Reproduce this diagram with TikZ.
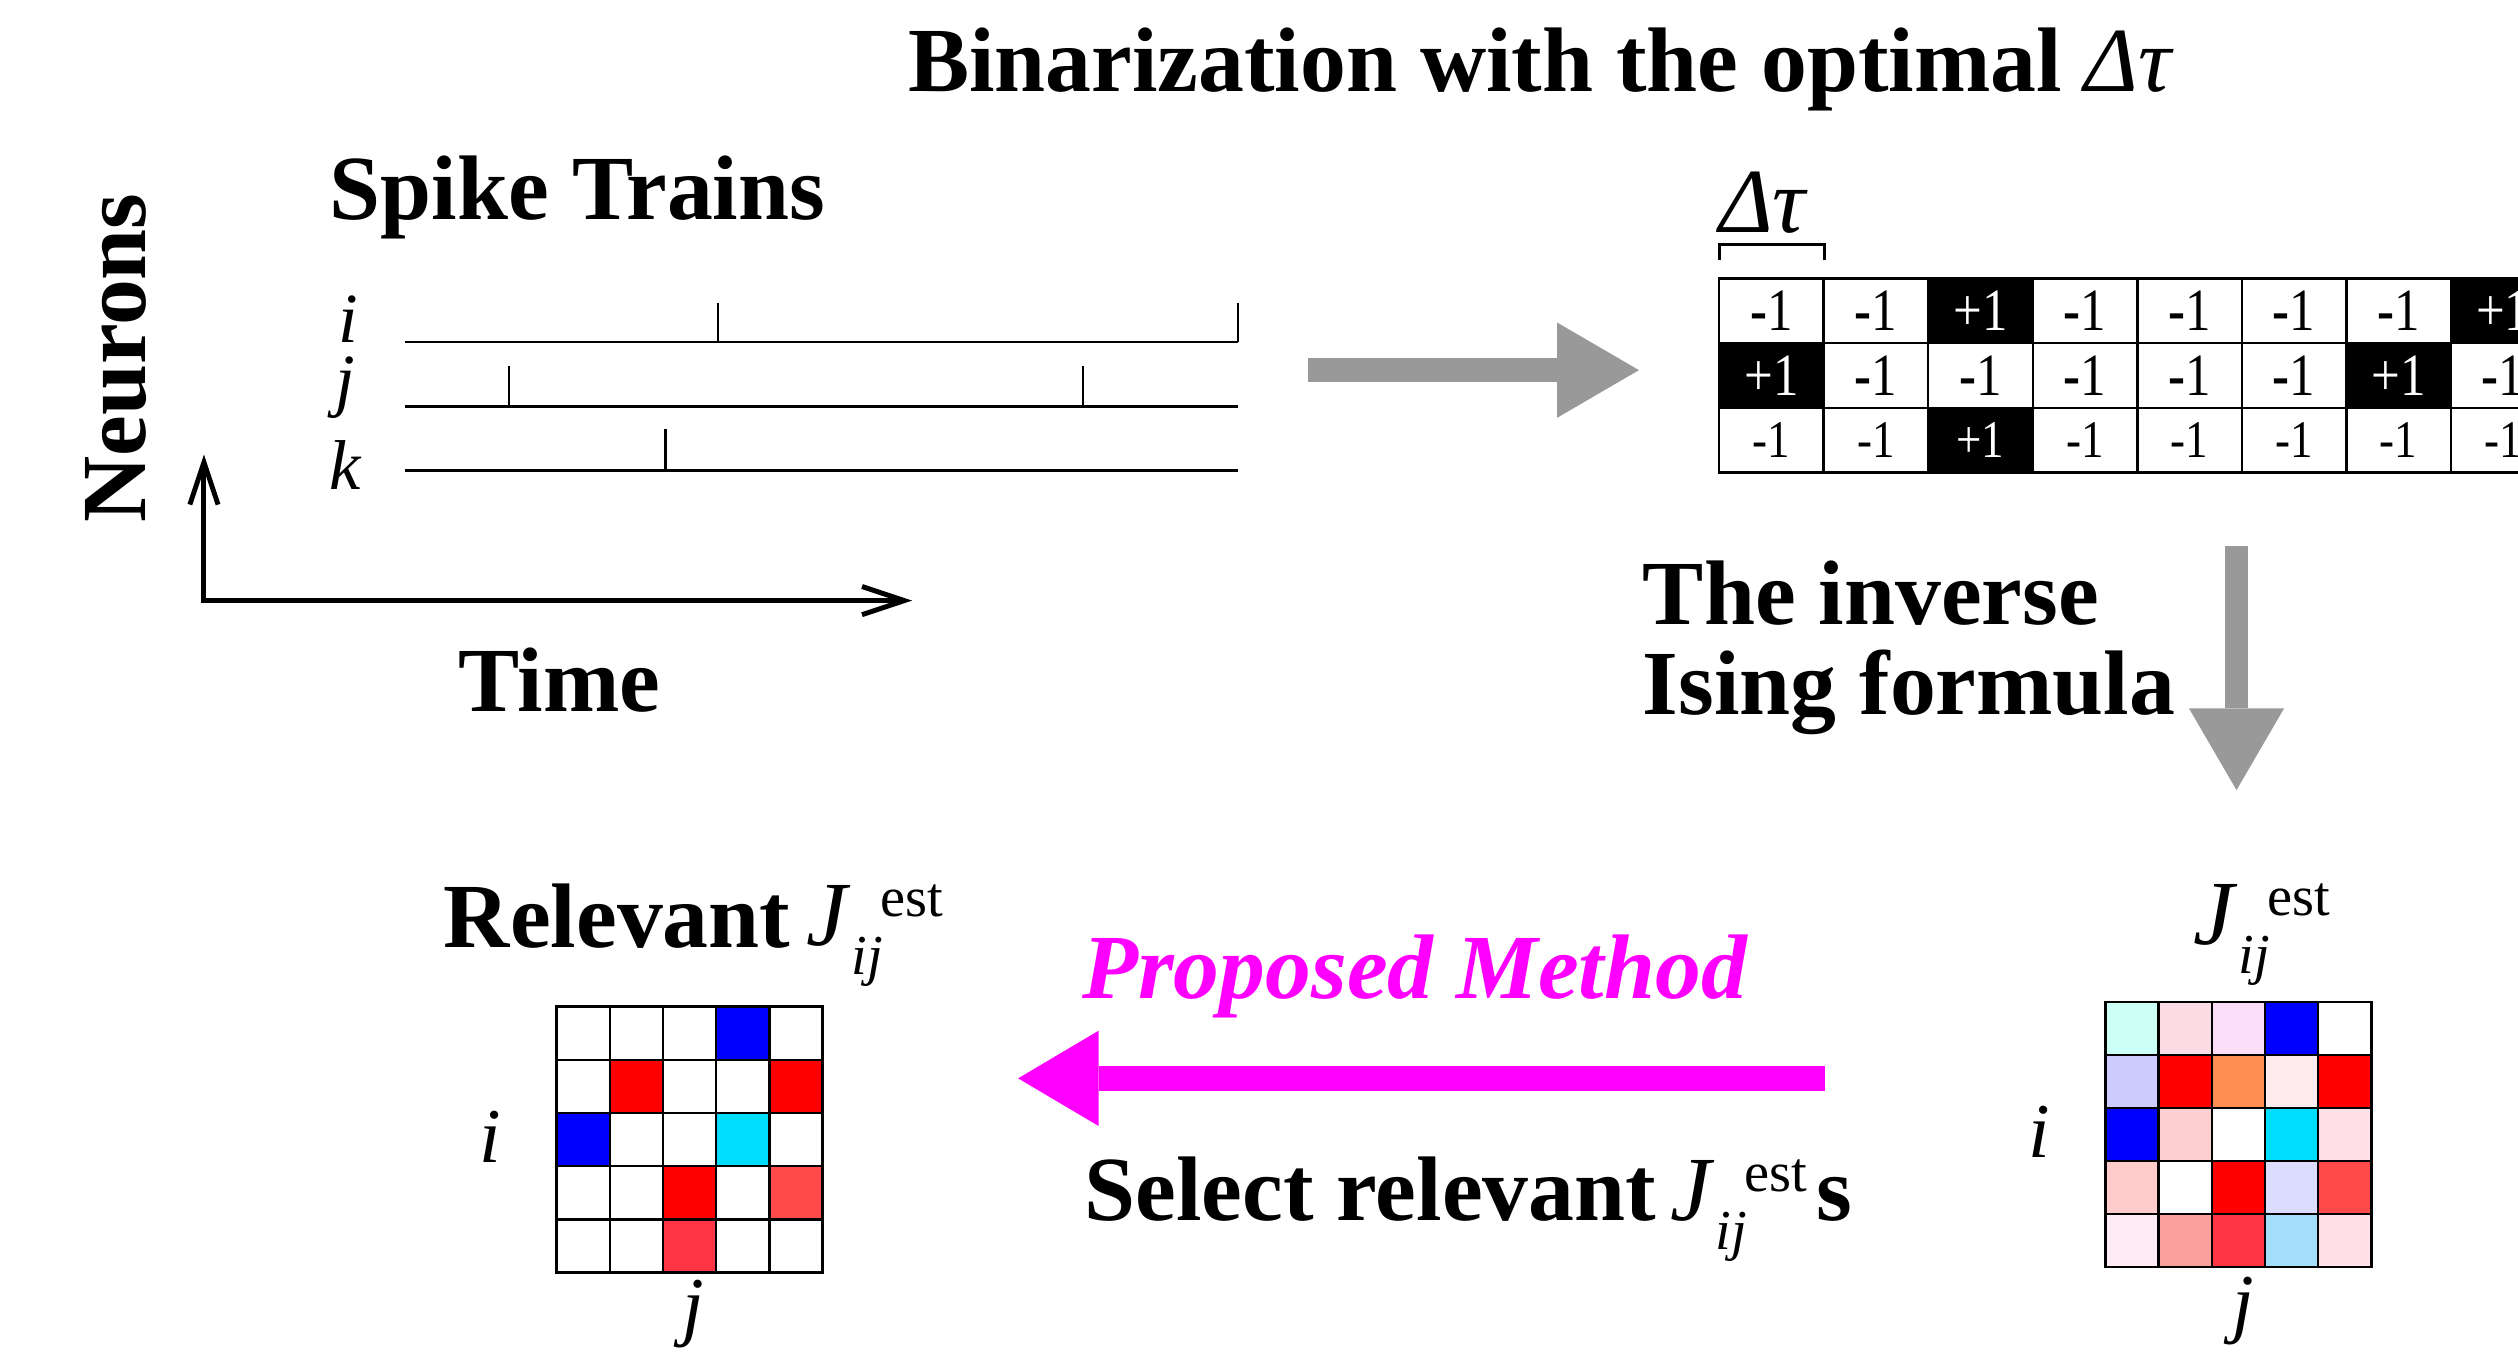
\documentclass[tikz,border=0pt]{standalone}
\usepackage{fontspec}
\setmainfont{Liberation Serif}
\usetikzlibrary{arrows.meta}
\definecolor{arrowgray}{HTML}{999999}
\definecolor{magarrow}{HTML}{FF00FF}
\definecolor{mBlue}{HTML}{0000FF}
\definecolor{mRed}{HTML}{FF0000}
\definecolor{mCyan}{HTML}{00DDFF}
\definecolor{mMint}{HTML}{CCFFF5}
\definecolor{mPkA}{HTML}{FCDCE4}
\definecolor{mLav}{HTML}{FCDDF8}
\definecolor{mPeri}{HTML}{CCCCFF}
\definecolor{mOr}{HTML}{FF8C50}
\definecolor{mPkB}{HTML}{FFEBEB}
\definecolor{mPkC}{HTML}{FCCFD0}
\definecolor{mPkD}{HTML}{FFE0E6}
\definecolor{mPkE}{HTML}{FFCCCC}
\definecolor{mPeriB}{HTML}{DCDCFF}
\definecolor{mRedB}{HTML}{FF4A4A}
\definecolor{mPkF}{HTML}{FEEBF5}
\definecolor{mSal}{HTML}{FCA09C}
\definecolor{mRedC}{HTML}{FF3545}
\definecolor{mSky}{HTML}{A3DEFA}
\newcommand{\smallfs}{\fontsize{16}{18}\selectfont}
\newcommand{\Jest}{\rlap{\itshape J}\hspace{12.7pt}\rlap{\raisebox{-8.2pt}{\smallfs\itshape ij}}\hspace{8.3pt}\raisebox{8.2pt}{\smallfs\upshape est}}
\newcommand{\tpos}[3]{\node[tcell,fill=black,text=white] (#1) at ({1070.5+65.1*(#2-0.5)},{173.3+40.33*(#3-0.5)}) {\ifnum#3=3 \fontsize{15}{15}\selectfont\fi\scalebox{0.85}[1]{+1}};}
\newcommand{\tneg}[3]{\node[tcell,fill=white] (#1) at ({1070.5+65.1*(#2-0.5)},{173.3+40.33*(#3-0.5)}) {\ifnum#3=3 \fontsize{15}{15}\selectfont\scalebox{0.85}[1]{-1}\else\scalebox{0.85}[1]{\textbf{-}1}\fi};}
\begin{document}
\begin{tikzpicture}[x=0.4553pt,y=-0.4553pt,
  big/.style={font=\fontsize{26}{30}\selectfont\bfseries, inner sep=0pt},
  lbl/.style={font=\fontsize{20}{22}\selectfont\itshape, inner sep=0pt},
  lblb/.style={font=\fontsize{22}{24}\selectfont\itshape, inner sep=0pt},
  jlbl/.style={font=\fontsize{26}{30}\selectfont\mdseries, inner sep=0pt},
  tcell/.style={draw=black, line width=0.7pt, minimum width=29.64pt, minimum height=18.36pt, inner sep=0pt, outer sep=0pt, font=\fontsize{17}{17}\selectfont},
  mcell/.style={draw=black, line width=0.7pt, minimum width=15.07pt, minimum height=15.07pt, inner sep=0pt, outer sep=0pt},
  grayarrow/.style={draw=arrowgray, line width=6.7pt, -{Triangle[length=23.2pt,width=27pt,line width=0pt]}},
  magentaarrow/.style={draw=magarrow, line width=7pt, -{Triangle[length=22.8pt,width=27pt,line width=0pt]}},
  axisline/.style={line width=1.4pt, {Straight Barb[length=12pt,width=8pt]}-{Straight Barb[length=12pt,width=8pt]}},
  train/.style={line width=0.75pt},
  spike/.style={line width=0.7pt}]
\useasboundingbox (0,0) rectangle (1568,844);
\clip (0,0) rectangle (1568,844);
\fill[white] (0,0) rectangle (1568,844);

% title
\node[big, anchor=base west] (title) at (565,57) {Binarization with the optimal {\mdseries\itshape Δτ}};

% spike trains panel
\node[big, anchor=base west] (spk) at (205,137) {Spike Trains};
\node[big, rotate=90] (neur) at (72.5,223) {Neurons};
\node[big, anchor=base west] (time) at (285,443) {Time};
\node[lbl, anchor=base] (li) at (217,213) {i};
\node[lbl, anchor=base] (lj) at (215,251) {j};
\node[lbl, anchor=base] (lk) at (215,305) {k};
\foreach \yy in {213,253,293} \draw[train] (252,\yy) -- (771,\yy);
\draw[spike] (447,213) -- (447,188.8);
\draw[spike] (771,213) -- (771,188.8);
\draw[spike] (317,253) -- (317,228);
\draw[spike] (674.5,253) -- (674.5,228);
\draw[spike] (414.4,293) -- (414.4,267);
\coordinate (ytip) at (127,283);
\coordinate (origin) at (127,374);
\coordinate (xtip) at (568,374);
\draw[axisline] (ytip) -- (origin) -- (xtip);

% arrow to binarized table
\coordinate (ga1) at (814.5,230.5);
\coordinate (ga2) at (1020.6,230.5);
\draw[grayarrow] (ga1) -- (ga2);

% binarized table
\node[font=\fontsize{26}{30}\selectfont\itshape, inner sep=0pt, anchor=base west] (dtau) at (1070,144.5) {Δτ};
\draw[line width=0.8pt] (1070.5,162) -- (1070.5,152.5) -- (1135.9,152.5) -- (1135.9,162);
\tneg{t11}{1}{1}\tneg{t12}{2}{1}\tpos{t13}{3}{1}\tneg{t14}{4}{1}\tneg{t15}{5}{1}\tneg{t16}{6}{1}\tneg{t17}{7}{1}\tpos{t18}{8}{1}
\tpos{t21}{1}{2}\tneg{t22}{2}{2}\tneg{t23}{3}{2}\tneg{t24}{4}{2}\tneg{t25}{5}{2}\tneg{t26}{6}{2}\tpos{t27}{7}{2}\tneg{t28}{8}{2}
\tneg{t31}{1}{3}\tneg{t32}{2}{3}\tpos{t33}{3}{3}\tneg{t34}{4}{3}\tneg{t35}{5}{3}\tneg{t36}{6}{3}\tneg{t37}{7}{3}\tneg{t38}{8}{3}

% inverse Ising
\node[big, anchor=base west] (inv1) at (1022.6,389) {The inverse};
\node[big, anchor=base west] (inv2) at (1022.6,445) {Ising formula};
\coordinate (gb1) at (1392.7,339.8);
\coordinate (gb2) at (1392.7,492);
\draw[grayarrow] (gb1) -- (gb2);

% estimated J matrix (right)
\node[jlbl, anchor=base west] (rJ) at (1365.5,588) {\Jest};
\foreach \col [count=\k from 0] in {mMint,mPkA,mLav,mBlue,white,mPeri,mRed,mOr,mPkB,mRed,mBlue,mPkC,white,mCyan,mPkD,mPkE,white,mRed,mPeriB,mRedB,mPkF,mSal,mRedC,mSky,mPkD}{
  \pgfmathtruncatemacro\rr{div(\k,5)}
  \pgfmathtruncatemacro\cc{mod(\k,5)}
  \node[mcell, fill=\col] (R\rr\cc) at ({1311+33.14*(\cc+0.5)},{624+33.0*(\rr+0.5)}) {};
}
\node[lblb, anchor=base] (Ri) at (1270,721) {i};
\node[lblb, anchor=base] (Rj) at (1397,827) {j};

% proposed method arrow
\node[big, anchor=base west, text=magarrow, font=\fontsize{26}{30}\selectfont\bfseries\itshape] (prop) at (673.5,621.5) {Proposed Method};
\coordinate (pm1) at (1136.4,671.5);
\coordinate (pm2) at (634,671.5);
\draw[magentaarrow] (pm1) -- (pm2);
\node[big, anchor=base west] (sel) at (675,760) {Select relevant};
\node[jlbl, anchor=base west] (selJ) at (1040,760) {\Jest};
\node[big, anchor=base west] (sels) at (1131,760) {s};

% relevant J matrix (left)
\node[big, anchor=base west] (relev) at (276,590) {Relevant};
\node[jlbl, anchor=base west] (relJ) at (502,589) {\Jest};
\foreach \col [count=\k from 0] in {white,white,white,mBlue,white,white,mRed,white,white,mRed,mBlue,white,white,mCyan,white,white,white,mRed,white,mRedB,white,white,mRedC,white,white}{
  \pgfmathtruncatemacro\rr{div(\k,5)}
  \pgfmathtruncatemacro\cc{mod(\k,5)}
  \node[mcell, fill=\col] (L\rr\cc) at ({346.6+33.12*(\cc+0.5)},{626.8+33.14*(\rr+0.5)}) {};
}
\node[lblb, anchor=base] (Li) at (305,724) {i};
\node[lblb, anchor=base] (Lj) at (432,829) {j};
\end{tikzpicture}
\end{document}
